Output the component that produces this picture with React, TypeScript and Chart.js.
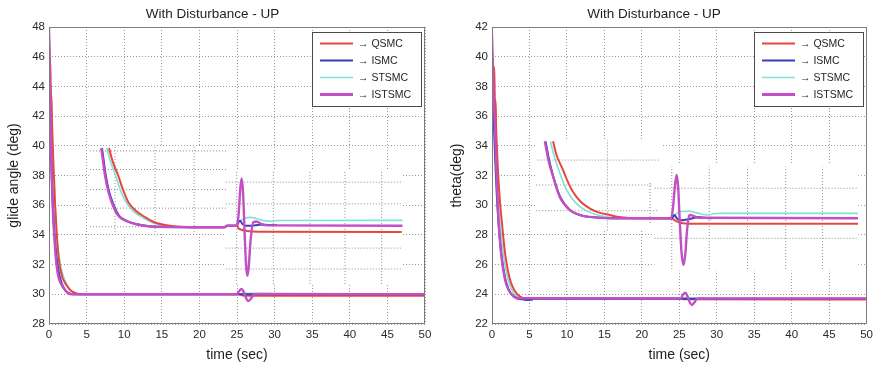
import React, { useEffect, useRef } from "react";
import { Chart, registerables } from "chart.js";

Chart.register(...registerables);

type Pt = [number, number | null];

// ---------- shared ----------
const SERIES = ["QSMC", "ISMC", "STSMC", "ISTSMC"];
const TITLE = "With Disturbance - UP";
const X_LABEL = "time (sec)";
const LEFT_Y_LABEL = "glide angle (deg)";
const RIGHT_Y_LABEL = "theta(deg)";
const X_RANGE = [0, 50, 5];
const LEFT_Y_RANGE = [28, 48, 2];
const RIGHT_Y_RANGE = [22, 42, 2];

// ---------- left panel : glide angle ----------
const leftQsmcMain: Pt[] = [[0,47.3],[0.08,46.2],[0.12,45.6],[0.16,45.8],[0.22,44.2],[0.28,43.3],[0.32,43.4],[0.4,41.6],[0.5,40.1],[0.6,38.6],[0.7,37.5],[0.8,36.2],[0.9,35.3],[1.0,34.4],[1.12,33.4],[1.24,32.7],[1.4,32.0],[1.6,31.5],[1.8,31.1],[2.05,30.85],[2.35,30.6],[2.7,30.35],[3.1,30.18],[3.6,30.07],[4.2,30.0],[25.2,30.0],[25.8,29.92],[26.5,29.9],[50,29.9]];
const leftIsmcMain: Pt[] = [[0,44.2],[0.08,43.5],[0.15,42],[0.25,39.8],[0.35,38],[0.45,36.6],[0.6,35.1],[0.8,33.6],[1.0,32.5],[1.25,31.6],[1.55,30.95],[1.9,30.5],[2.3,30.2],[2.8,30.05],[3.3,30.0],[50,30.0]];
const leftStsmcMain: Pt[] = [[0,46],[0.08,44.8],[0.18,42.6],[0.3,40.2],[0.45,38],[0.6,36.6],[0.8,35.1],[1.0,34],[1.2,33.1],[1.45,32.2],[1.75,31.5],[2.1,30.95],[2.5,30.55],[2.95,30.25],[3.5,30.08],[4.1,30.02],[25.2,30.02],[25.8,30.06],[27,30.06],[29.5,30.05]];
const leftIstsmcMain: Pt[] = [[0,48],[0.06,46.5],[0.12,44.8],[0.22,41.7],[0.35,38.3],[0.46,36.4],[0.57,35.0],[0.7,33.9],[0.85,32.8],[1.0,32.0],[1.2,31.3],[1.45,30.85],[1.9,30.45],[2.3,30.18],[2.8,30.02],[3.2,30.0],[24.96,30.0],[25.25,30.2],[25.6,30.36],[25.95,30.1],[26.2,29.75],[26.5,29.55],[26.85,29.7],[27.2,29.98],[27.6,30.02],[50,30.0]];

const leftQsmcInset: Pt[] = [[7.98,39.85],[8.5,38.9],[9.2,38.0],[9.8,37.1],[10.55,36.2],[11.5,35.65],[12.77,35.2],[14.0,34.85],[15.4,34.67],[17.0,34.57],[19,34.52],[23.3,34.52],[23.7,34.62],[25.0,34.62],[25.2,34.45],[25.6,34.35],[26.06,34.28],[28.06,34.22],[46.9,34.2]];
const leftIsmcInset: Pt[] = [[7.05,39.85],[7.3,38.9],[7.55,38.0],[8.0,36.9],[8.45,36.2],[9.3,35.3],[10.3,34.95],[11.5,34.74],[12.8,34.62],[14.2,34.55],[23.3,34.52],[23.7,34.62],[25.0,34.64],[25.17,34.85],[25.4,34.95],[25.7,34.75],[26.2,34.62],[27.0,34.62],[28.0,34.68],[30.3,34.66]];
const leftStsmcInset: Pt[] = [[7.67,39.85],[8.2,38.9],[8.85,38.0],[9.5,37.0],[10.25,36.2],[11.2,35.6],[12.5,35.15],[13.8,34.82],[15.2,34.62],[17.0,34.54],[23.3,34.52],[23.7,34.62],[25.0,34.62],[25.3,34.85],[26.0,35.1],[26.73,35.18],[27.6,35.1],[28.5,34.96],[29.8,34.92],[30.2,34.97],[47,34.98]];
const leftIstsmcInset: Pt[] = [[6.95,39.85],[7.2,38.9],[7.45,38.0],[7.9,36.9],[8.33,36.2],[9.2,35.3],[10.2,34.95],[11.4,34.74],[12.7,34.62],[14.1,34.55],[23.3,34.52],[23.7,34.62],[24.96,34.62],[25.2,35.3],[25.45,37.2],[25.62,37.8],[25.8,36.9],[26.0,34.3],[26.2,32.0],[26.37,31.24],[26.55,31.8],[26.8,33.6],[27.17,34.85],[27.6,34.9],[28.3,34.72],[29,34.64],[47,34.62]];

// zoomed-view panels pasted on the axes: [x1, x2, y1, y2]
const leftInsetBoxes = [[5.45, 23.6, 34.2, 39.95], [23.5, 47, 30.7, 38.3]];
// their dotted grid: horizontal [y, x1, x2], vertical [x, y1, y2]
const leftInsetH = [[39.65,5.45,23.6],[38.4,5.45,23.6],[37.05,5.45,23.6],[35.8,5.45,23.6],[34.55,5.45,23.6],[37.55,23.5,47],[36.09,23.5,47],[33.11,23.5,47],[31.7,23.5,47]];
const leftInsetV = [[8.78,34.2,39.95],[14.1,34.2,39.95],[19.3,34.2,39.95],[24.96,30.7,38.3],[29.83,30.7,38.3],[34.7,30.7,38.3],[39.36,30.7,38.3],[44.24,30.7,38.3]];

// ---------- right panel : theta ----------
const rightQsmcMain: Pt[] = [[0,40.5],[0.1,39.6],[0.2,38.8],[0.3,39.3],[0.35,37.8],[0.4,36.9],[0.48,37.1],[0.55,35.3],[0.65,34],[0.75,32.8],[0.9,31.4],[1.05,30.3],[1.29,29.0],[1.5,27.9],[1.73,26.8],[2.05,25.8],[2.4,25.0],[2.8,24.45],[3.3,24.05],[3.95,23.8],[4.6,23.72],[24.0,23.72],[25.2,23.7],[25.8,23.66],[50,23.65]];
const rightIsmcMain: Pt[] = [[0,40],[0.1,38],[0.25,35.5],[0.4,33.4],[0.6,31.1],[0.84,29.0],[1.2,26.9],[1.5,25.8],[1.8,25.0],[2.2,24.35],[2.7,23.95],[3.3,23.75],[4.0,23.66],[4.6,23.62],[5.3,23.63],[5.6,23.7],[50,23.7]];
const rightStsmcMain: Pt[] = [[0,41],[0.1,39.5],[0.25,37.2],[0.4,35.3],[0.6,32.6],[0.85,30.2],[1.1,28.6],[1.45,26.9],[1.8,25.8],[2.2,24.9],[2.6,24.35],[3.1,23.95],[3.7,23.76],[4.4,23.7],[25.2,23.7],[25.8,23.78],[26.5,23.74],[28.3,23.74]];
const rightIstsmcMain: Pt[] = [[0,41.5],[0.06,40.2],[0.15,38.3],[0.25,37.0],[0.4,35.2],[0.6,32.2],[0.84,29.2],[1.2,26.8],[1.73,25.0],[2.2,24.3],[2.7,23.95],[3.5,23.73],[25.2,23.72],[25.45,23.95],[25.8,24.11],[26.15,23.8],[26.4,23.45],[26.69,23.28],[27.0,23.45],[27.35,23.68],[27.8,23.72],[50,23.72]];

const rightQsmcInset: Pt[] = [[8.15,34.3],[8.6,33.4],[9.48,32.37],[10.1,31.6],[10.8,30.9],[11.8,30.25],[13.03,29.79],[14.3,29.5],[15.7,29.34],[17,29.2],[18.5,29.14],[20,29.12],[24.0,29.1],[24.5,28.95],[25.44,28.78],[26.5,28.75],[48.85,28.75]];
const rightIsmcInset: Pt[] = [[7.15,34.3],[7.6,33.1],[8.2,31.9],[9.1,30.55],[10.4,29.68],[12,29.3],[13.9,29.18],[20,29.12],[24.0,29.12],[24.34,29.34],[24.7,29.1],[25.2,28.98],[25.8,29.02],[26.77,29.12],[27.5,29.2],[28.5,29.14],[29.43,29.12]];
const rightStsmcInset: Pt[] = [[7.8,34.3],[8.3,33.3],[9.1,32.1],[9.8,31.2],[10.6,30.5],[11.6,29.95],[12.9,29.55],[14.4,29.3],[16,29.17],[18,29.12],[24.0,29.12],[24.4,29.3],[24.78,29.5],[25.5,29.58],[26.33,29.6],[27.2,29.5],[28.99,29.34],[29.5,29.42],[30.5,29.45],[48.85,29.45]];
const rightIstsmcInset: Pt[] = [[7.05,34.3],[7.55,33.0],[8.15,31.92],[9.04,30.57],[10.37,29.68],[12,29.3],[13.9,29.18],[16,29.12],[23.9,29.12],[24.15,29.8],[24.4,31.2],[24.64,32.03],[24.85,31.2],[25.05,29.0],[25.3,26.8],[25.57,25.97],[25.8,26.7],[26.05,28.4],[26.33,29.34],[26.8,29.3],[27.5,29.15],[48.85,29.12]];

const rightInsetBoxes = [[5.9, 22.7, 28.3, 34.4], [21.7, 48.9, 25.6, 32.7]];
const rightInsetH = [[33.04,6.1,22.3],[31.36,5.9,21.4],[29.63,5.9,22.3],[31.14,21.7,48.8],[27.77,21.7,48.8]];
const rightInsetV = [[15.4,28.3,34.4],[21.1,28.8,31.5],[24.0,25.7,32.6],[29.0,25.7,32.6],[34.1,25.7,32.6],[39.2,25.7,32.6],[44.1,25.7,32.6]];

// ---------- styles ----------
const FONT = "'Liberation Sans', Arial, Helvetica, sans-serif";
const COLORS = ["#e8453c", "#3a3fb6", "#7fe2d6", "#c24fc4"];
const WIDTHS = [2, 2, 1.6, 2.4];
const LEGEND_WIDTHS = [2, 2, 1.5, 3];
const DRAW_ORDER = [3, 2, 4, 1];
const GRID_COLOR = "#9a9a9a";
const INSET_GRID_COLOR = "#8a8a8a";

Chart.defaults.font.family = FONT;

const framePlugin = {
  id: "matlabFrame",
  afterDatasetsDraw(chart: any) {
    const { ctx, chartArea: a } = chart;
    ctx.save();
    ctx.strokeStyle = "#7d7d7d";
    ctx.lineWidth = 1;
    ctx.strokeRect(Math.round(a.left) + 0.5, Math.round(a.top) + 0.5, Math.round(a.right - a.left) - 1, Math.round(a.bottom - a.top) - 1);
    ctx.restore();
  },
};

const legendPlugin = {
  id: "boxLegend",
  afterDatasetsDraw(chart: any) {
    const { ctx, chartArea: a } = chart;
    const w = 109, h = 74;
    const x = Math.round(a.right - 4 - w);
    const y = Math.round(a.top + 5);
    ctx.save();
    ctx.fillStyle = "#ffffff";
    ctx.fillRect(x, y, w, h);
    ctx.strokeStyle = "#4a4a4a";
    ctx.lineWidth = 1;
    ctx.strokeRect(x + 0.5, y + 0.5, w, h);
    ctx.font = `10.5px ${FONT}`;
    ctx.textBaseline = "middle";
    ctx.textAlign = "left";
    SERIES.forEach((name, i) => {
      const ly = y + 11.5 + i * 17;
      ctx.strokeStyle = COLORS[i];
      ctx.lineWidth = LEGEND_WIDTHS[i];
      ctx.beginPath();
      ctx.moveTo(x + 8, ly);
      ctx.lineTo(x + 41, ly);
      ctx.stroke();
      ctx.fillStyle = "#1e1e1e";
      ctx.fillText("\u2192 " + name, x + 46, ly + 1);
    });
    ctx.restore();
  },
};

function buildDatasets(main: Pt[][], inset: Pt[][], boxes: number[][], hLines: number[][], vLines: number[][]) {
  const ds: any[] = [];
  boxes.forEach(([x1, x2, y1, y2]) => {
    ds.push({
      data: [[x1, y1], [x2, y1], [x2, y2], [x1, y2], [x1, y1]],
      fill: "shape",
      backgroundColor: "#ffffff",
      borderColor: "rgba(0,0,0,0)",
      borderWidth: 0,
      pointRadius: 0,
      order: 100,
    });
  });
  const grid: Pt[] = [];
  hLines.forEach(([y, x1, x2]) => { grid.push([x1, y], [x2, y], [x2, null]); });
  vLines.forEach(([x, y1, y2]) => { grid.push([x, y1], [x, y2], [x, null]); });
  ds.push({
    data: grid,
    borderColor: INSET_GRID_COLOR,
    borderWidth: 1,
    borderDash: [1, 2],
    pointRadius: 0,
    fill: false,
    spanGaps: false,
    order: 90,
  });
  SERIES.forEach((_, i) => {
    [main[i], inset[i]].forEach((pts) => {
      ds.push({
        data: pts,
        borderColor: COLORS[i],
        borderWidth: WIDTHS[i],
        pointRadius: 0,
        fill: false,
        cubicInterpolationMode: "monotone",
        order: DRAW_ORDER[i],
      });
    });
  });
  return ds;
}

function makeConfig(p: {
  main: Pt[][]; inset: Pt[][]; boxes: number[][]; hLines: number[][]; vLines: number[][];
  yRange: number[]; yLabel: string; axisWidth: number; rightPad: number; yTitlePad: number;
}) {
  return {
    type: "line" as const,
    data: { datasets: buildDatasets(p.main, p.inset, p.boxes, p.hLines, p.vLines) },
    plugins: [framePlugin, legendPlugin],
    options: {
      animation: false,
      responsive: false,
      maintainAspectRatio: false,
      events: [],
      layout: { padding: { left: 0, right: p.rightPad, top: 0, bottom: 0 } },
      plugins: {
        legend: { display: false },
        tooltip: { enabled: false },
        title: {
          display: true,
          text: TITLE,
          color: "#1e1e1e",
          font: { family: FONT, size: 13.5, weight: "normal" },
          padding: { top: 6, bottom: 4.8 },
        },
      },
      scales: {
        x: {
          type: "linear",
          min: X_RANGE[0],
          max: X_RANGE[1],
          ticks: { stepSize: X_RANGE[2], color: "#2a2a2a", font: { size: 11.5 }, padding: 4, maxRotation: 0, autoSkip: false },
          grid: { color: GRID_COLOR, drawTicks: false, lineWidth: 1 },
          border: { display: false, dash: [1, 2] },
          title: { display: true, text: X_LABEL, color: "#1e1e1e", font: { size: 14 }, padding: { top: 0, bottom: 4.6 } },
          afterFit: (s: any) => { s.height = 44; },
        },
        y: {
          type: "linear",
          min: p.yRange[0],
          max: p.yRange[1],
          ticks: { stepSize: p.yRange[2], color: "#2a2a2a", font: { size: 11.5 }, padding: 4, autoSkip: false },
          grid: { color: GRID_COLOR, drawTicks: false, lineWidth: 1 },
          border: { display: false, dash: [1, 2] },
          title: { display: true, text: p.yLabel, color: "#1e1e1e", font: { size: 14 }, padding: { top: p.yTitlePad, bottom: 0 } },
          afterFit: (s: any) => { s.width = p.axisWidth; },
        },
      },
    },
  };
}

function Panel(props: { width: number; left: number; config: any }) {
  const ref = useRef<HTMLCanvasElement | null>(null);
  useEffect(() => {
    if (!ref.current) return;
    const chart = new Chart(ref.current, props.config);
    return () => chart.destroy();
  }, []);
  return (
    <canvas
      ref={ref}
      width={props.width}
      height={368}
      style={{ position: "absolute", left: props.left, top: 0, width: props.width, height: 368, display: "block" }}
    />
  );
}

export default function App() {
  const leftCfg = makeConfig({
    main: [leftQsmcMain, leftIsmcMain, leftStsmcMain, leftIstsmcMain],
    inset: [leftQsmcInset, leftIsmcInset, leftStsmcInset, leftIstsmcInset],
    boxes: leftInsetBoxes, hLines: leftInsetH, vLines: leftInsetV,
    yRange: LEFT_Y_RANGE, yLabel: LEFT_Y_LABEL, axisWidth: 49, rightPad: 15, yTitlePad: 5.6,
  });
  const rightCfg = makeConfig({
    main: [rightQsmcMain, rightIsmcMain, rightStsmcMain, rightIstsmcMain],
    inset: [rightQsmcInset, rightIsmcInset, rightStsmcInset, rightIstsmcInset],
    boxes: rightInsetBoxes, hLines: rightInsetH, vLines: rightInsetV,
    yRange: RIGHT_Y_RANGE, yLabel: RIGHT_Y_LABEL, axisWidth: 52, rightPad: 9, yTitlePad: 8.6,
  });
  return (
    <div style={{ position: "fixed", left: 0, top: 0, width: 877, height: 368, background: "#ffffff", overflow: "hidden" }}>
      <Panel width={440} left={0} config={leftCfg} />
      <Panel width={437} left={440} config={rightCfg} />
    </div>
  );
}
